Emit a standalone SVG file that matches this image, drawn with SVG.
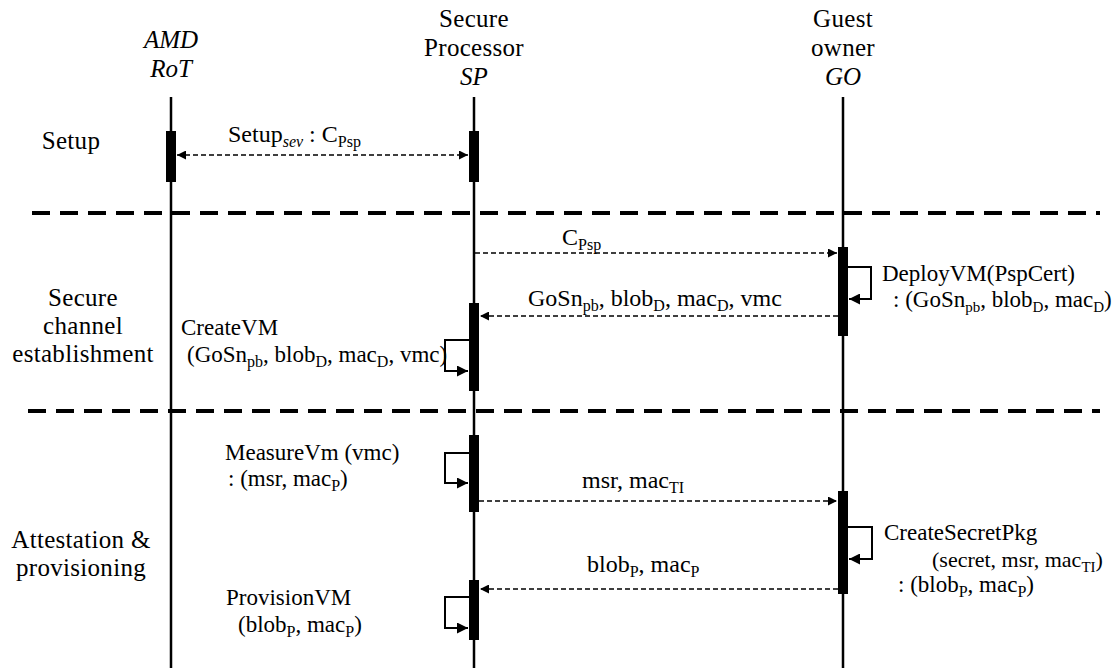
<svg xmlns="http://www.w3.org/2000/svg" width="1113" height="668" viewBox="0 0 1113 668">
<style>
text, tspan{font-family:'Liberation Serif',serif !important}
.life{stroke:#000;stroke-width:2.5}
.act{fill:#000}
.sep{stroke:#000;stroke-width:4;stroke-dasharray:18 10}
.msg{stroke:#000;stroke-width:1.6;stroke-dasharray:5 3;fill:none}
.self{stroke:#000;stroke-width:2;fill:none}
</style>
<defs>
<marker id="ah" viewBox="0 0 10 10" refX="10" refY="5" markerWidth="9" markerHeight="9" markerUnits="userSpaceOnUse" orient="auto-start-reverse">
<path d="M0,0 L10,5 L0,10 z" fill="#000"/>
</marker>
<marker id="ahs" viewBox="0 0 10 10" refX="10" refY="5" markerWidth="11" markerHeight="11" markerUnits="userSpaceOnUse" orient="auto">
<path d="M0,0 L10,5 L0,10 z" fill="#000"/>
</marker>
</defs>
<rect width="1113" height="668" fill="#fff"/>

<g id="phases">
<text x="71" y="149" text-anchor="middle" style="font-family:'Liberation Serif',serif;font-size:25px;letter-spacing:0.3px">Setup</text>
<text x="83" y="306" text-anchor="middle" style="font-family:'Liberation Serif',serif;font-size:25px;letter-spacing:0.3px">Secure</text>
<text x="83" y="334" text-anchor="middle" style="font-family:'Liberation Serif',serif;font-size:25px;letter-spacing:0.3px">channel</text>
<text x="83" y="362" text-anchor="middle" style="font-family:'Liberation Serif',serif;font-size:25px;letter-spacing:0.3px">establishment</text>
<text x="81" y="548" text-anchor="middle" style="font-family:'Liberation Serif',serif;font-size:25px;letter-spacing:0.3px">Attestation &amp;</text>
<text x="81" y="576" text-anchor="middle" style="font-family:'Liberation Serif',serif;font-size:25px;letter-spacing:0.3px">provisioning</text>
<line class="sep" x1="32" y1="213" x2="1100" y2="213"/>
<line class="sep" x1="28" y1="411" x2="1100" y2="411"/>
</g>

<g id="node-amd">
<text x="171" y="48" text-anchor="middle" style="font-family:'Liberation Serif',serif;font-size:25px;font-style:italic">AMD</text>
<text x="171" y="77" text-anchor="middle" style="font-family:'Liberation Serif',serif;font-size:25px;font-style:italic">RoT</text>
<line class="life" x1="171" y1="97" x2="171" y2="668"/>
<rect class="act" x="166" y="131" width="10" height="51"/>
</g>

<g id="node-sp">
<text x="474" y="27" text-anchor="middle" style="font-family:'Liberation Serif',serif;font-size:25px;letter-spacing:0.3px">Secure</text>
<text x="474" y="56" text-anchor="middle" style="font-family:'Liberation Serif',serif;font-size:25px;letter-spacing:0.3px">Processor</text>
<text x="474" y="85" text-anchor="middle" style="font-family:'Liberation Serif',serif;font-size:25px;font-style:italic">SP</text>
<line class="life" x1="474" y1="97" x2="474" y2="668"/>
<rect class="act" x="469" y="131" width="10" height="51"/>
<rect class="act" x="469" y="303" width="10" height="88"/>
<rect class="act" x="469" y="435" width="10" height="77"/>
<rect class="act" x="469" y="580" width="10" height="60"/>
</g>

<g id="node-go">
<text x="843" y="27" text-anchor="middle" style="font-family:'Liberation Serif',serif;font-size:25px;letter-spacing:0.3px">Guest</text>
<text x="843" y="56" text-anchor="middle" style="font-family:'Liberation Serif',serif;font-size:25px;letter-spacing:0.3px">owner</text>
<text x="843" y="85" text-anchor="middle" style="font-family:'Liberation Serif',serif;font-size:25px;font-style:italic">GO</text>
<line class="life" x1="843" y1="97" x2="843" y2="668"/>
<rect class="act" x="838" y="247" width="10" height="89"/>
<rect class="act" x="838" y="491" width="10" height="103"/>
</g>

<g id="connectors">
<line class="msg" x1="177" y1="155" x2="468" y2="155" marker-start="url(#ah)" marker-end="url(#ah)"/>
<line class="msg" x1="475" y1="253" x2="837" y2="253" marker-end="url(#ah)"/>
<line class="msg" x1="838" y1="316" x2="480" y2="316" marker-end="url(#ah)"/>
<line class="msg" x1="479" y1="501" x2="837" y2="501" marker-end="url(#ah)"/>
<line class="msg" x1="838" y1="589" x2="480" y2="589" marker-end="url(#ah)"/>
<polyline class="self" points="848,267 871,267 871,299 849,299" marker-end="url(#ahs)"/>
<polyline class="self" points="469,340 445,340 445,371 468,371" marker-end="url(#ahs)"/>
<polyline class="self" points="469,453 445,453 445,483 468,483" marker-end="url(#ahs)"/>
<polyline class="self" points="848,527 872,527 872,559 849,559" marker-end="url(#ahs)"/>
<polyline class="self" points="469,597 445,597 445,628 468,628" marker-end="url(#ahs)"/>
</g>

<g id="labels">
<text x="228" y="142" style="font-family:'Liberation Serif',serif;font-size:24px">Setup<tspan font-size="16" font-style="italic" dy="5">sev</tspan><tspan dy="-5"> : C</tspan><tspan font-size="16" dy="5">Psp</tspan></text>
<text x="562" y="245" style="font-family:'Liberation Serif',serif;font-size:24px">C<tspan font-size="16" dy="5">Psp</tspan></text>
<text x="528" y="306" style="font-family:'Liberation Serif',serif;font-size:24px">GoSn<tspan font-size="16" dy="5">pb</tspan><tspan dy="-5">, blob</tspan><tspan font-size="16" dy="5">D</tspan><tspan dy="-5">, mac</tspan><tspan font-size="16" dy="5">D</tspan><tspan dy="-5">, vmc</tspan></text>
<text x="582" y="488" style="font-family:'Liberation Serif',serif;font-size:24px">msr, mac<tspan font-size="16" dy="5">TI</tspan></text>
<text x="587" y="572" style="font-family:'Liberation Serif',serif;font-size:24px">blob<tspan font-size="16" dy="5">P</tspan><tspan dy="-5">, mac</tspan><tspan font-size="16" dy="5">P</tspan></text>

<text x="882" y="281" style="font-family:'Liberation Serif',serif;font-size:23px">DeployVM(PspCert)</text>
<text x="893" y="307" style="font-family:'Liberation Serif',serif;font-size:23px">: (GoSn<tspan font-size="15" dy="5">pb</tspan><tspan dy="-5">, blob</tspan><tspan font-size="15" dy="5">D</tspan><tspan dy="-5">, mac</tspan><tspan font-size="15" dy="5">D</tspan><tspan dy="-5">)</tspan></text>

<text x="181" y="335" style="font-family:'Liberation Serif',serif;font-size:23px">CreateVM</text>
<text x="187" y="362" style="font-family:'Liberation Serif',serif;font-size:23px">(GoSn<tspan font-size="16" dy="5">pb</tspan><tspan dy="-5">, blob</tspan><tspan font-size="16" dy="5">D</tspan><tspan dy="-5">, mac</tspan><tspan font-size="16" dy="5">D</tspan><tspan dy="-5">, vmc)</tspan></text>

<text x="225" y="460" style="font-family:'Liberation Serif',serif;font-size:23px">MeasureVm (vmc)</text>
<text x="228" y="486" style="font-family:'Liberation Serif',serif;font-size:23px">: (msr, mac<tspan font-size="16" dy="5">P</tspan><tspan dy="-5">)</tspan></text>

<text x="884" y="540" style="font-family:'Liberation Serif',serif;font-size:23px">CreateSecretPkg</text>
<text x="932" y="567" style="font-family:'Liberation Serif',serif;font-size:22px">(secret, msr, mac<tspan font-size="15" dy="5">TI</tspan><tspan dy="-5">)</tspan></text>
<text x="898" y="592" style="font-family:'Liberation Serif',serif;font-size:23px">: (blob<tspan font-size="16" dy="5">P</tspan><tspan dy="-5">, mac</tspan><tspan font-size="16" dy="5">P</tspan><tspan dy="-5">)</tspan></text>

<text x="226" y="605" style="font-family:'Liberation Serif',serif;font-size:23px">ProvisionVM</text>
<text x="238" y="632" style="font-family:'Liberation Serif',serif;font-size:23px">(blob<tspan font-size="16" dy="5">P</tspan><tspan dy="-5">, mac</tspan><tspan font-size="16" dy="5">P</tspan><tspan dy="-5">)</tspan></text>
</g>
</svg>
